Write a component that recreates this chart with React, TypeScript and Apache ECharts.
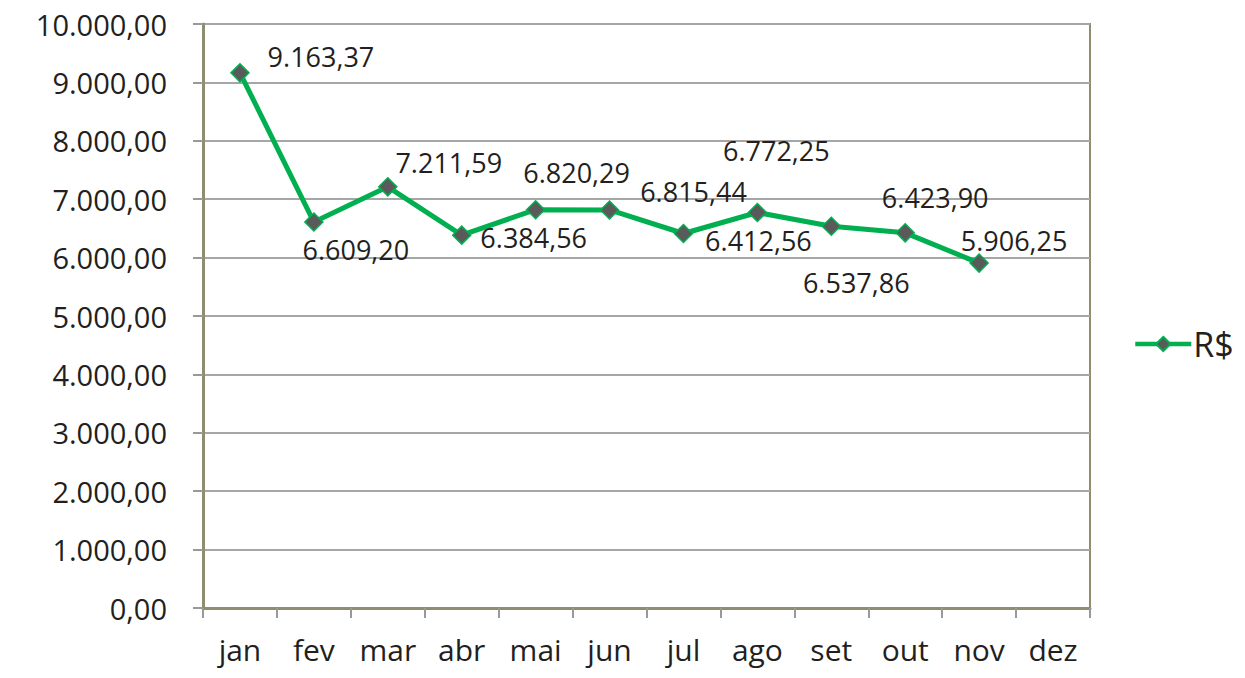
import React, { useEffect, useRef } from "react";
import * as echarts from "echarts";

const categories = ["jan", "fev", "mar", "abr", "mai", "jun", "jul", "ago", "set", "out", "nov", "dez"];
const values: (number | null)[] = [9163.37, 6609.2, 7211.59, 6384.56, 6820.29, 6815.44, 6412.56, 6772.25, 6537.86, 6423.9, 5906.25, null];
const seriesName = "R$";
// label placement offsets (px) relative to each point, mimicking the original layout
const labelOffsets: [number, number][] = [
  [81, -16], [42, 27], [61, -24], [72, 2], [41, -37], [84, -18],
  [75, 7], [19, -62], [25, 56], [30, -35], [35, -23], [0, 0],
];

function fmt(v: number): string {
  const fixed = v.toFixed(2);
  const [int, dec] = fixed.split(".");
  const withDots = int.replace(/\B(?=(\d{3})+(?!\d))/g, ".");
  return withDots + "," + dec;
}

const FONT = "'Open Sans', sans-serif";
const TEXT = "#231f20";
const GREEN = "#00b050";

export default function App() {
  const ref = useRef<HTMLDivElement>(null);
  useEffect(() => {
    if (!ref.current) return;
    const chart = echarts.init(ref.current, undefined, { renderer: "svg" });
    chart.setOption({
      animation: false,
      backgroundColor: "#ffffff",
      textStyle: { fontFamily: FONT, color: TEXT },
      grid: {
        left: 203, right: 155, top: 24, bottom: 70,
        show: true, borderColor: "#8f8f6f", borderWidth: 2, backgroundColor: "transparent",
      },
      legend: {
        show: true,
        left: 1128,
        top: 322,
        orient: "vertical",
        itemWidth: 56,
        itemHeight: 18,
        itemGap: 6,
        textStyle: { fontSize: 34, color: TEXT, fontFamily: FONT, padding: [0, 0, 0, -3] },
        data: [{ name: seriesName, lineStyle: { width: 4.5, color: GREEN } }],
      },
      xAxis: {
        type: "category",
        data: categories,
        boundaryGap: true,
        axisLine: { lineStyle: { color: "#8f8f6f", width: 3 } },
        axisTick: { show: true, length: 10, lineStyle: { color: "#999999", width: 2 }, alignWithLabel: false },
        axisLabel: { fontSize: 30, color: TEXT, margin: 26, fontFamily: FONT },
        splitLine: { show: false },
      },
      yAxis: {
        type: "value",
        min: 0,
        max: 10000,
        interval: 1000,
        axisLine: { show: true, lineStyle: { color: "#8f8f6f", width: 3 } },
        axisTick: { show: true, length: 10, lineStyle: { color: "#999999", width: 2 } },
        axisLabel: {
          fontSize: 29, lineHeight: 30, color: TEXT, margin: 36, fontFamily: FONT,
          formatter: (v: number) => fmt(v),
        },
        splitLine: { show: true, lineStyle: { color: "#a6a6a6", width: 2 } },
      },
      series: [
        {
          name: seriesName,
          type: "line",
          data: values.map((v, i) => ({
            value: v,
            label: { offset: labelOffsets[i] },
          })),
          symbol: "diamond",
          symbolSize: 18,
          lineStyle: { color: GREEN, width: 5 },
          itemStyle: { color: "#5a5a5a", borderColor: GREEN, borderWidth: 1.5 },
          label: {
            show: true,
            position: "inside",
            fontSize: 27,
            color: TEXT,
            fontFamily: FONT,
            formatter: (p: any) => (p.value == null ? "" : fmt(p.value)),
          },
        },
      ],
    });
    return () => chart.dispose();
  }, []);
  return <div ref={ref} style={{ position: "absolute", left: 0, top: 0, width: 1245, height: 678 }} />;
}
